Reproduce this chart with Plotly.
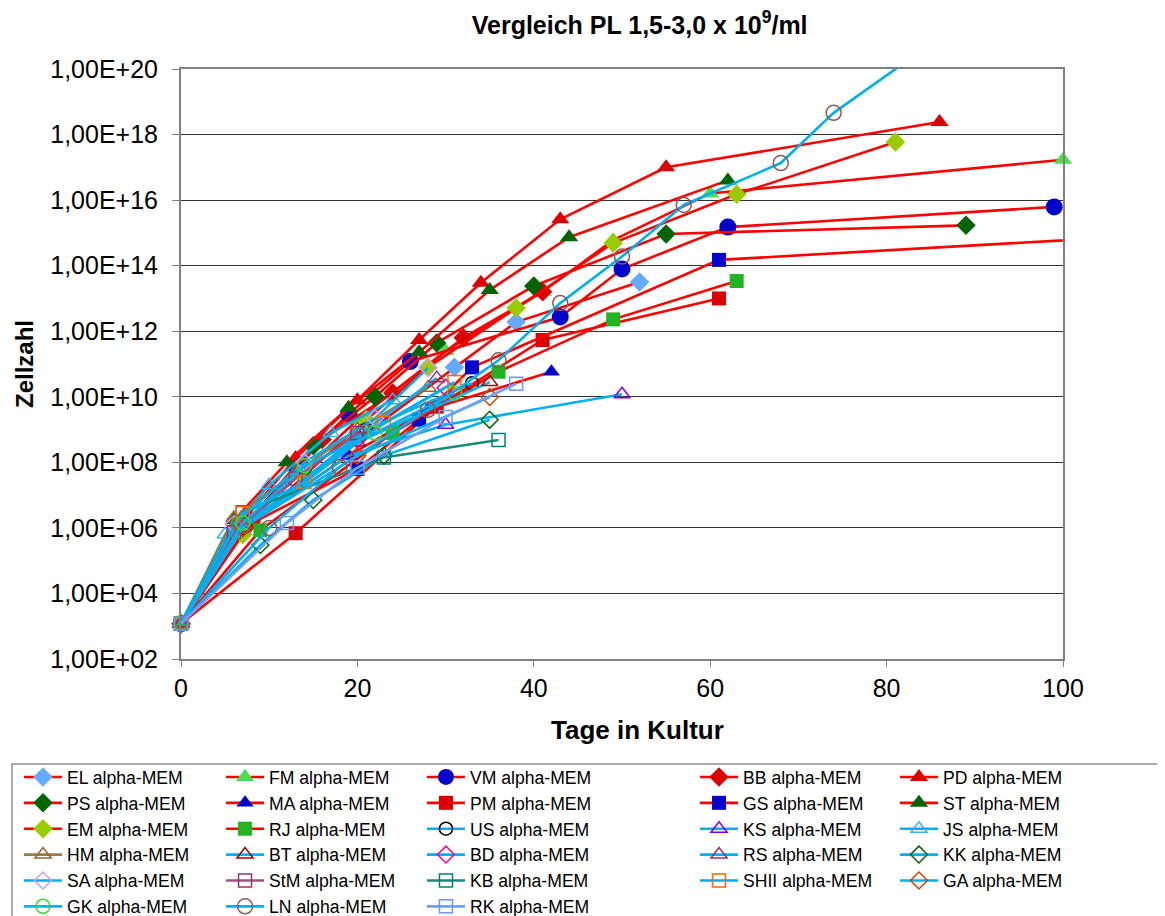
import plotly.graph_objects as go

# ---- data (days in culture, cell counts) ----
EL_days = [0, 7, 20, 31, 38, 52]
EL_vals = [1.2e3, 1.0e6, 5.0e8, 7.9e10, 1.9e12, 3.2e13]
FM_days = [0, 7, 20, 30, 41, 49, 60, 100]
FM_vals = [1.2e3, 1.0e6, 2.0e9, 2.5e11, 1.6e13, 6.0e14, 1.6e16, 1.7e17]
VM_days = [0, 7, 13, 19, 26, 43, 50, 62, 99]
VM_vals = [1.2e3, 1.0e6, 7.9e7, 3.0e9, 1.2e11, 2.7e12, 7.9e13, 1.5e15, 6.2e15]
BB_days = [0, 8, 16, 24, 32, 41]
BB_vals = [1.2e3, 1.6e6, 5.0e8, 1.3e10, 6.3e11, 1.6e13]
PD_days = [0, 7, 13, 20, 27, 34, 43, 55, 86]
PD_vals = [1.2e3, 1.6e6, 1.35e8, 7.9e9, 5.4e11, 3.0e13, 2.6e15, 1.0e17, 2.4e18]
PS_days = [0, 7, 15, 22, 29, 40, 55, 89]
PS_vals = [1.2e3, 1.0e6, 3.2e8, 1.0e10, 4.4e11, 2.4e13, 9.3e14, 1.7e15]
MA_days = [0, 7, 19, 28, 42]
MA_vals = [1.2e3, 1.0e6, 1.6e8, 4.0e9, 5.8e10]
PM_days = [0, 13, 29, 41, 61]
PM_vals = [1.2e3, 6.9e5, 5.0e9, 5.4e11, 1.0e13]
GS_days = [0, 7, 20, 27, 33, 61, 120]
GS_vals = [1.2e3, 1.0e6, 6.3e7, 2.0e9, 7.9e10, 1.5e14, 1.2e15]
ST_days = [0, 6, 12, 19, 27, 35, 44, 62]
ST_vals = [1.2e3, 1.7e6, 1.0e8, 4.6e9, 2.3e11, 1.8e13, 7.4e14, 4.0e16]
EM_days = [0, 7, 14, 21, 28, 38, 49, 63, 81]
EM_vals = [1.2e3, 6.3e5, 4.0e7, 2.0e9, 7.9e10, 5.1e12, 4.9e14, 1.5e16, 5.9e17]
RJ_days = [0, 9, 24, 36, 49, 63]
RJ_vals = [1.2e3, 8.5e5, 7.9e8, 5.8e10, 2.3e12, 3.4e13]
US_days = [0, 7, 14, 21, 33]
US_vals = [1.2e3, 1.0e6, 6.3e7, 1.0e9, 2.6e10]
KS_days = [0, 7, 19, 30, 50]
KS_vals = [1.2e3, 1.0e6, 1.6e8, 1.4e9, 1.2e10]
JS_days = [0, 5, 10, 17, 24]
JS_vals = [1.2e3, 6.3e5, 2.0e7, 7.9e8, 7.9e9]
HM_days = [0, 6, 13, 20, 28]
HM_vals = [1.2e3, 2.0e6, 5.0e7, 1.0e9, 1.9e10]
BT_days = [0, 7, 20, 35]
BT_vals = [1.2e3, 1.0e6, 4.0e8, 2.8e10]
BD_days = [0, 7, 20, 30]
BD_vals = [1.2e3, 1.0e6, 5.0e8, 1.9e10]
RS_days = [0, 7, 21, 29]
RS_vals = [1.2e3, 1.0e6, 1.0e9, 3.7e10]
KK_days = [0, 9, 15, 23, 35]
KK_vals = [1.2e3, 3.0e5, 7.1e6, 1.6e8, 2.0e9]
SA_days = [0, 6, 14, 22, 28]
SA_vals = [1.2e3, 1.3e6, 1.0e8, 2.2e9, 7.6e10]
StM_days = [0, 6, 13, 20]
StM_vals = [1.2e3, 7.4e5, 3.2e7, 7.9e8]
KB_days = [0, 7, 23, 36]
KB_vals = [1.2e3, 3.0e6, 1.4e8, 4.8e8]
SHII_days = [0, 7, 14, 23, 31]
SHII_vals = [1.2e3, 2.8e6, 2.5e7, 1.6e9, 2.8e10]
GA_days = [0, 7, 20, 35]
GA_vals = [1.2e3, 1.0e6, 1.6e8, 9.8e9]
GK_days = [0, 7, 14, 22, 31]
GK_vals = [1.2e3, 1.4e6, 7.9e7, 7.9e8, 1.3e10]
LN_days = [0, 10, 18, 28, 36, 43, 50, 57, 68, 74, 84]
LN_vals = [1.2e3, 1.0e6, 7.2e7, 4.0e9, 1.3e11, 7.2e12, 1.9e14, 7.1e15, 1.35e17, 4.6e18, 3.7e20]
RK_days = [0, 12, 20, 30, 38]
RK_vals = [1.2e3, 1.4e6, 6.8e7, 2.4e9, 2.5e10]

y_tickvals = [1e2, 1e4, 1e6, 1e8, 1e10, 1e12, 1e14, 1e16, 1e18, 1e20]
y_ticktext = ["1,00E+02", "1,00E+04", "1,00E+06", "1,00E+08", "1,00E+10",
              "1,00E+12", "1,00E+14", "1,00E+16", "1,00E+18", "1,00E+20"]
x_tickvals = [0, 20, 40, 60, 80, 100]

RED = "#FF0000"
CYAN = "#00B0F0"

# name, days, vals, line colour, marker symbol, marker colour, size
series = [
    ("EL", EL_days, EL_vals, RED, "diamond", "#66AAFF", 15),
    ("FM", FM_days, FM_vals, RED, "triangle-up", "#4CDD55", 16),
    ("VM", VM_days, VM_vals, RED, "circle", "#0000CC", 17),
    ("BB", BB_days, BB_vals, RED, "diamond", "#DD0000", 15),
    ("PD", PD_days, PD_vals, RED, "triangle-up", "#DD0000", 16),
    ("PS", PS_days, PS_vals, RED, "diamond", "#006400", 15),
    ("MA", MA_days, MA_vals, RED, "triangle-up", "#0000CC", 15),
    ("PM", PM_days, PM_vals, RED, "square", "#DD0000", 14),
    ("GS", GS_days, GS_vals, RED, "square", "#0000CC", 14),
    ("ST", ST_days, ST_vals, RED, "triangle-up", "#006400", 16),
    ("EM", EM_days, EM_vals, RED, "diamond", "#99CC00", 15),
    ("RJ", RJ_days, RJ_vals, RED, "square", "#22B422", 14),
    ("US", US_days, US_vals, CYAN, "circle-open", "#000000", 13),
    ("KS", KS_days, KS_vals, CYAN, "triangle-up-open", "#7F00FF", 14),
    ("JS", JS_days, JS_vals, CYAN, "triangle-up-open", "#33B5FF", 14),
    ("HM", HM_days, HM_vals, "#9A7A44", "triangle-up-open", "#996633", 14),
    ("BT", BT_days, BT_vals, CYAN, "triangle-up-open", "#AA0000", 14),
    ("BD", BD_days, BD_vals, CYAN, "diamond-open", "#FF0099", 13),
    ("RS", RS_days, RS_vals, CYAN, "triangle-up-open", "#993366", 14),
    ("KK", KK_days, KK_vals, CYAN, "diamond-open", "#006600", 13),
    ("SA", SA_days, SA_vals, CYAN, "diamond-open", "#CC99FF", 13),
    ("StM", StM_days, StM_vals, "#A05080", "square-open", "#993366", 13),
    ("KB", KB_days, KB_vals, "#1A8A7A", "square-open", "#008080", 13),
    ("SHII", SHII_days, SHII_vals, CYAN, "square-open", "#FF6600", 13),
    ("GA", GA_days, GA_vals, CYAN, "diamond-open", "#CC4400", 13),
    ("GK", GK_days, GK_vals, CYAN, "circle-open", "#33DD33", 14),
    ("LN", LN_days, LN_vals, CYAN, "circle-open", "#8B5A5A", 15),
    ("RK", RK_days, RK_vals, "#6F9EFF", "square-open", "#6699FF", 13),
]
# series with points beyond the axis range keep their markers clipped
CLIPPED = {"GS", "LN"}

LEGEND_IDS = ["legend", "legend2", "legend3", "legend4", "legend5"]
LEGEND_X = [-0.1837, 0.0454, 0.2732, 0.5828, 0.8095]   # column left edges (paper)
LEGEND_Y = -0.1695

fig = go.Figure()
for i, (name, d, v, lc, sym, mc, sz) in enumerate(series):
    is_open = sym.endswith("open")
    fig.add_trace(go.Scatter(
        x=d, y=v, mode="lines+markers", name=f"{name} alpha-MEM",
        line=dict(color=lc, width=2.6),
        marker=dict(symbol=sym, size=sz, color=mc,
                    line=dict(color=mc, width=1.5 if is_open else 0)),
        cliponaxis=name in CLIPPED,
        legend=LEGEND_IDS[i % 5],
    ))

FONT = "Arial, Liberation Sans, sans-serif"
legend_common = dict(orientation="v", xanchor="left", yanchor="top", y=LEGEND_Y,
                     font=dict(size=17.6), borderwidth=0, bgcolor="rgba(0,0,0,0)",
                     itemwidth=38, tracegroupgap=0, traceorder="normal")
legends = {lid: dict(x=lx, **legend_common) for lid, lx in zip(LEGEND_IDS, LEGEND_X)}

fig.update_layout(
    width=1165, height=916,
    margin=dict(l=173, r=110, t=61, b=265, autoexpand=False),
    paper_bgcolor="white", plot_bgcolor="white",
    font=dict(family=FONT, color="black"),
    title=dict(text="<b>Vergleich PL 1,5-3,0 x 10<sup>9</sup>/ml</b>",
               x=0.52, xref="paper", xanchor="center",
               y=1 - 17 / 916, yref="container", yanchor="middle",
               font=dict(size=25, family=FONT)),
    xaxis=dict(range=[0, 100], tickvals=x_tickvals, showgrid=False,
               showline=True, linecolor="#808080", linewidth=2, mirror=True,
               ticks="outside", ticklen=6, tickcolor="#808080",
               tickfont=dict(size=25), zeroline=False),
    yaxis=dict(type="log", range=[2, 20], tickvals=y_tickvals, ticktext=y_ticktext,
               showgrid=True, gridcolor="#333333", gridwidth=1,
               showline=True, linecolor="#808080", linewidth=2, mirror=True,
               ticks="outside", ticklen=7, tickcolor="#808080",
               ticklabelstandoff=9,
               tickfont=dict(size=25), zeroline=False,
               title=dict(text="<b>Zellzahl</b>", font=dict(size=24), standoff=10)),
    annotations=[dict(text="<b>Tage in Kultur</b>", xref="paper", yref="paper",
                      x=0.518, y=-0.1203, xanchor="center", yanchor="middle",
                      showarrow=False, font=dict(size=26))],
    shapes=[dict(type="rect", xref="paper", yref="paper",
                 x0=-0.1916, x1=1.1134, y0=-0.178, y1=-0.6,
                 line=dict(color="#555555", width=1), fillcolor="rgba(0,0,0,0)",
                 layer="below")],
    showlegend=True,
    **legends,
)

fig.write_html("out.html")
